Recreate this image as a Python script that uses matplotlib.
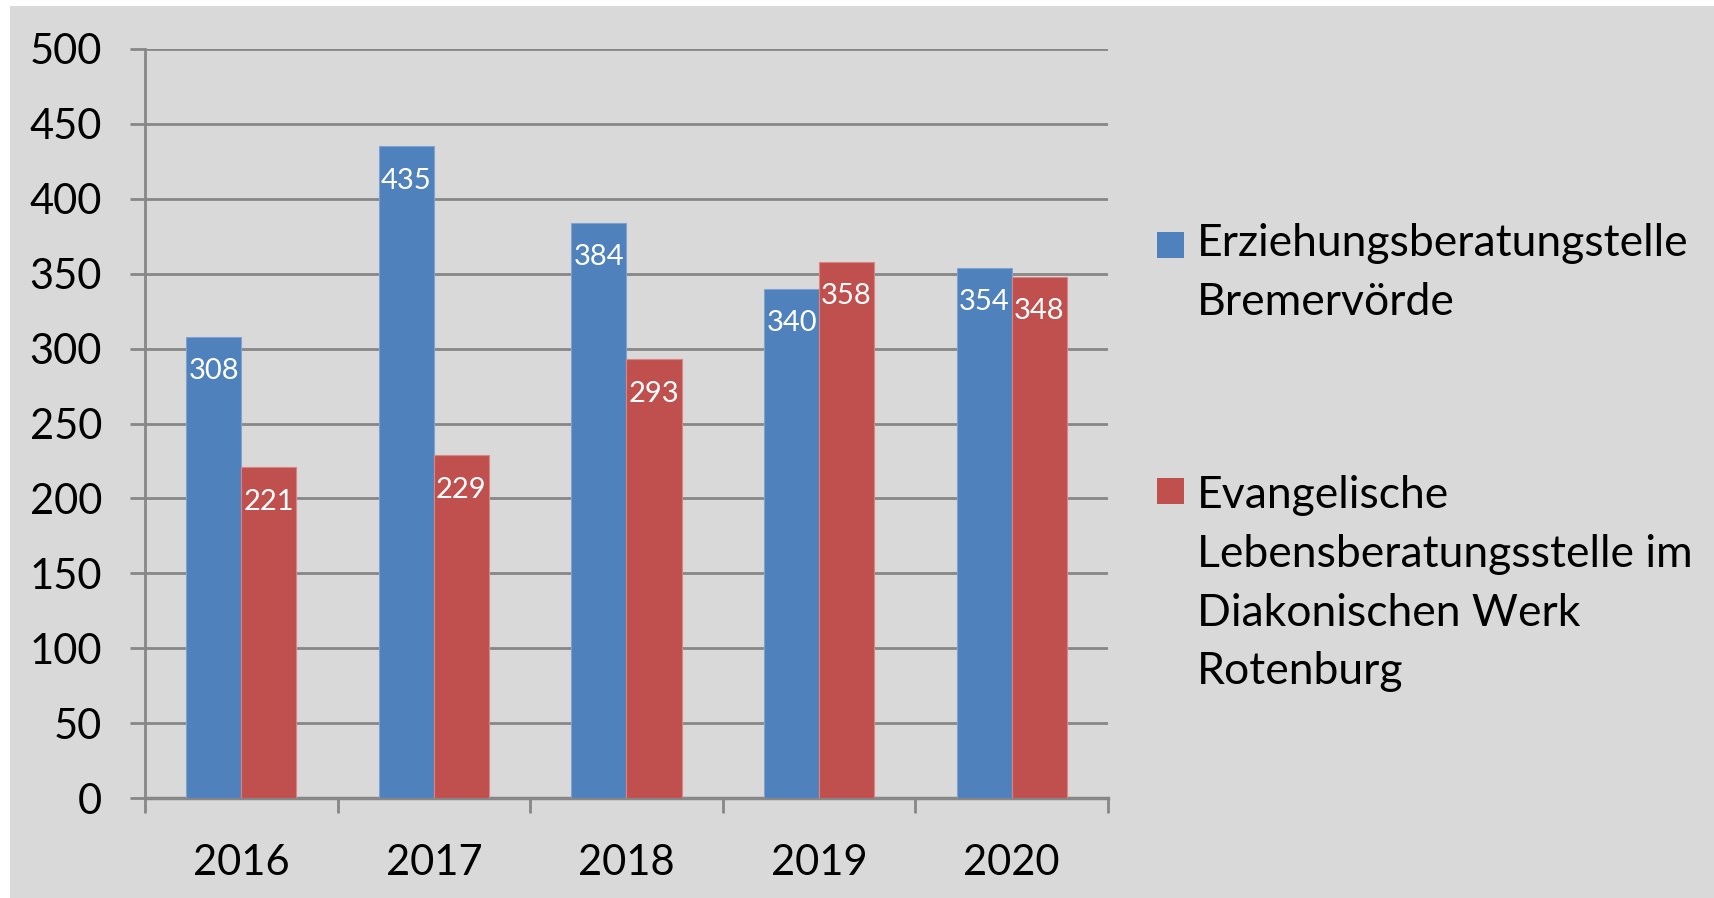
import numpy as np
import matplotlib
matplotlib.use('Agg')
import matplotlib.pyplot as plt
from matplotlib.patches import Rectangle

years = ["2016", "2017", "2018", "2019", "2020"]
erziehung = [308, 435, 384, 340, 354]
evangelisch = [221, 229, 293, 358, 348]
series_labels = ["Erziehungsberatungstelle\nBremervörde",
                 "Evangelische\nLebensberatungsstelle im\nDiakonischen Werk\nRotenburg"]

W, H = 1715, 898
blue = "#4f81bd"
red = "#c0504d"
grey_bg = "#d9d9d9"
grid_col = "#878787"

plt.rcParams['font.family'] = ['Lato', 'DejaVu Sans']

fig = plt.figure(figsize=(W / 100, H / 100), dpi=100)
fig.patch.set_facecolor("white")
# grauer Hintergrund (oben/links schmaler weisser Rand)
fig.patches.append(Rectangle((10 / W, 0), 1, 1 - 6 / H, transform=fig.transFigure,
                             facecolor=grey_bg, edgecolor="none", zorder=-5))

# Achse in Pixeln: links 145, rechts 1108, oben 49, unten 798
ax = fig.add_axes([145 / W, 1 - 798 / H, (1108 - 145) / W, (798 - 49) / H])
ax.set_facecolor("none")
ax.set_zorder(2)

x = np.arange(len(years))
bw = 1 / 3.5
b1 = ax.bar(x - bw / 2, erziehung, bw, color=blue, edgecolor="#7fa3d0", linewidth=0.8, zorder=3)
b2 = ax.bar(x + bw / 2, evangelisch, bw, color=red, edgecolor="#d88583", linewidth=0.8, zorder=3)

for bars, vals in ((b1, erziehung), (b2, evangelisch)):
    for rect, v in zip(bars, vals):
        ax.annotate(str(v), (rect.get_x() + rect.get_width() / 2, v),
                    xytext=(0, -25), textcoords="offset points",
                    ha="center", va="center", color="white", fontsize=21, zorder=4)

ax.set_xlim(-0.5, len(years) - 0.5)
ax.set_ylim(0, 500)
ax.set_yticks(np.arange(0, 501, 50))
ax.yaxis.grid(True, color=grid_col, linewidth=2, zorder=1)
ax.set_axisbelow(True)

for s in ["top", "right"]:
    ax.spines[s].set_visible(False)
ax.spines["left"].set_color(grid_col)
ax.spines["left"].set_linewidth(2)
ax.spines["bottom"].set_color(grid_col)
ax.spines["bottom"].set_linewidth(2.5)

ax.tick_params(axis="y", length=11, width=2, color=grid_col, labelsize=30, pad=20)
ax.set_xticks(np.arange(-0.5, len(years), 1))
ax.set_xticklabels([])
ax.set_xticks(x, minor=True)
ax.set_xticklabels(years, minor=True)
ax.tick_params(axis="x", which="major", length=11, width=2, color=grid_col)
ax.tick_params(axis="x", which="minor", length=0, labelsize=30, pad=33)

# Legende von Hand, damit Abstand wie im Original
leg = [(blue, series_labels[0], 245, 223), (red, series_labels[1], 491, 475)]
for col, txt, yc, ytxt in leg:
    fig.patches.append(Rectangle((1157 / W, 1 - (yc + 13) / H), 27 / W, 26 / H,
                                 transform=fig.transFigure, facecolor=col,
                                 edgecolor="none", zorder=2))
    fig.text(1197 / W, 1 - ytxt / H, txt, ha="left", va="top",
             fontsize=32, linespacing=1.54)

fig.savefig("out.png", dpi=100, facecolor=fig.get_facecolor())
